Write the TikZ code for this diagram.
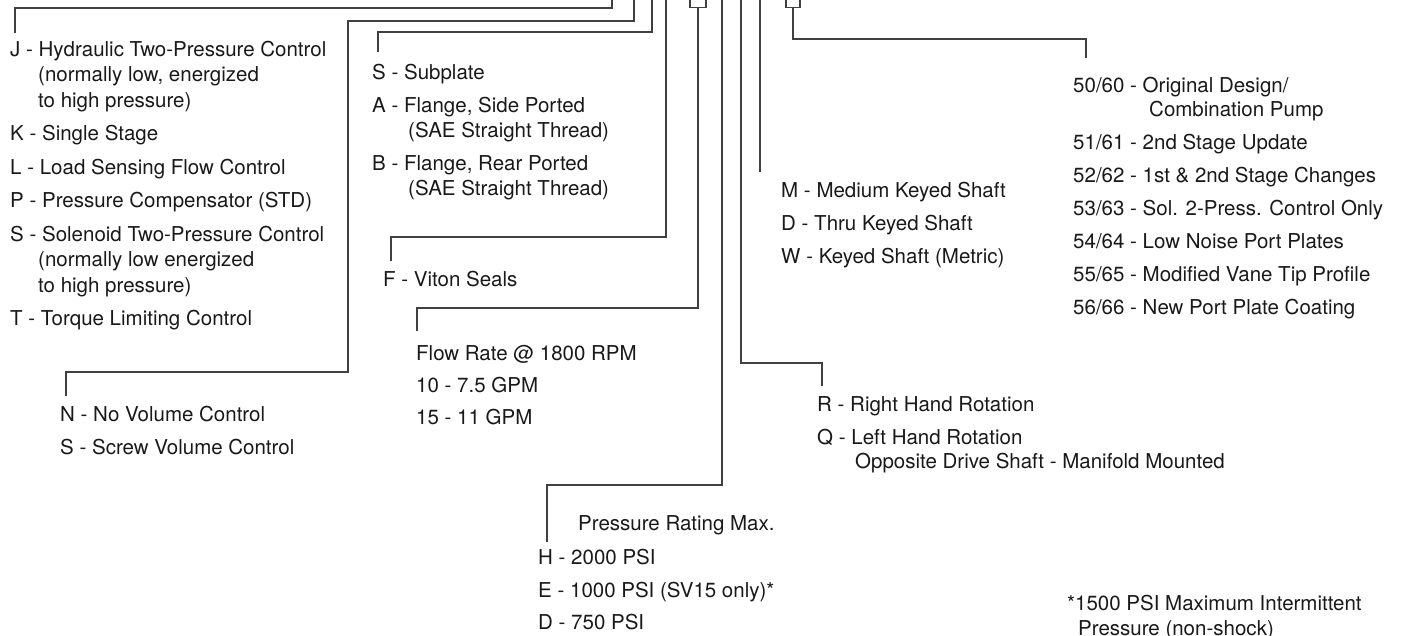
\documentclass[tikz,border=0pt]{standalone}
\usepackage{fontspec}
\setmainfont{TeX Gyre Heros}
\begin{document}
\begin{tikzpicture}[x=1pt,y=-1pt,
  lbl/.style={anchor=base west, inner sep=0pt, font=\fontsize{20.5}{24}\selectfont, text=black!90},
  ln/.style={line width=1.2pt, draw=black!75},
  bx/.style={line width=1.2pt, draw=black!75, minimum width=16pt, minimum height=14pt, inner sep=0pt, anchor=south}]
\useasboundingbox (0,0) rectangle (1403,635);
% ---------- J list ----------
\node[lbl] (j1) at (10,56)    {J - Hydraulic Two-Pressure Control};
\node[lbl] (j2) at (38,81.5)  {(normally low, energized};
\node[lbl] (j3) at (38,107)   {to high pressure)};
\node[lbl] (jk) at (10,140.5) {K - Single Stage};
\node[lbl] (jl) at (10,174)   {L - Load Sensing Flow Control};
\node[lbl] (jp) at (10,207.5) {P - Pressure Compensator (STD)};
\node[lbl] (js1) at (10,241)  {S - Solenoid Two-Pressure Control};
\node[lbl] (js2) at (38,266.5){(normally low energized};
\node[lbl] (js3) at (38,292)  {to high pressure)};
\node[lbl] (jt) at (10,325.5) {T - Torque Limiting Control};
% ---------- S list ----------
\node[lbl] (s1) at (372,79)  {S - Subplate};
\node[lbl] (s2) at (372,112) {A - Flange, Side Ported};
\node[lbl] (s3) at (408,137) {(SAE Straight Thread)};
\node[lbl] (s4) at (372,170) {B - Flange, Rear Ported};
\node[lbl] (s5) at (408,195) {(SAE Straight Thread)};
% ---------- F ----------
\node[lbl] (f1) at (383,286) {F - Viton Seals};
% ---------- Flow ----------
\node[lbl] (q1) at (416,360) {Flow Rate @ 1800 RPM};
\node[lbl] (q2) at (416,392) {10 - 7.5 GPM};
\node[lbl] (q3) at (416,424) {15 - 11 GPM};
% ---------- N list ----------
\node[lbl] (n1) at (60,421) {N - No Volume Control};
\node[lbl] (n2) at (60,454) {S - Screw Volume Control};
% ---------- M list ----------
\node[lbl] (m1) at (781,197) {M - Medium Keyed Shaft};
\node[lbl] (m2) at (781,230) {D - Thru Keyed Shaft};
\node[lbl] (m3) at (781,263) {W - Keyed Shaft (Metric)};
% ---------- R list ----------
\node[lbl] (r1) at (817,411) {R - Right Hand Rotation};
\node[lbl] (r2) at (817,444) {Q - Left Hand Rotation};
\node[lbl] (r3) at (855,468) {Opposite Drive Shaft - Manifold Mounted};
% ---------- design list ----------
\node[lbl] (d1) at (1073,92)  {50/60 - Original Design/};
\node[lbl] (d1b) at (1149,116){Combination Pump};
\node[lbl] (d2) at (1073,149) {51/61 - 2nd Stage Update};
\node[lbl] (d3) at (1073,182) {52/62 - 1st \& 2nd Stage Changes};
\node[lbl] (d4) at (1073,215) {53/63 - Sol. 2-Press. Control Only};
\node[lbl] (d5) at (1073,248) {54/64 - Low Noise Port Plates};
\node[lbl] (d6) at (1073,281) {55/65 - Modified Vane Tip Profile};
\node[lbl] (d7) at (1073,314) {56/66 - New Port Plate Coating};
% ---------- pressure list ----------
\node[lbl] (h0) at (578,530) {Pressure Rating Max.};
\node[lbl] (h1) at (538,564) {H - 2000 PSI};
\node[lbl] (h2) at (538,597) {E - 1000 PSI (SV15 only)*};
\node[lbl] (h3) at (538,629) {D - 750 PSI};
% ---------- footnote ----------
\node[lbl] (fn1) at (1067,610) {*1500 PSI Maximum Intermittent};
\node[lbl] (fn2) at (1078,635) {Pressure (non-shock)};
% ---------- boxes ----------
\node[bx, draw] (box1) at (698,8) {};
\node[bx, draw, minimum width=14pt] (box2) at (793,8) {};
% ---------- connector points ----------
\coordinate (cA0) at (612,-2); \coordinate (cA1) at (15,8);   \coordinate (cA2) at (15,33);
\coordinate (cB0) at (634,-2); \coordinate (cB1) at (348,21); \coordinate (cB2) at (348,372);
\coordinate (cB3) at (66,372); \coordinate (cB4) at (66,396);
\coordinate (cC0) at (652,-2); \coordinate (cC1) at (378,32); \coordinate (cC2) at (378,52);
\coordinate (cD0) at (666,-2); \coordinate (cD1) at (666,237); \coordinate (cD2) at (391,237); \coordinate (cD3) at (391,261);
\coordinate (cE1) at (698,308); \coordinate (cE2) at (417,308); \coordinate (cE3) at (417,331);
\coordinate (cF0) at (722,-2); \coordinate (cF1) at (722,485); \coordinate (cF2) at (547,485); \coordinate (cF3) at (547,542);
\coordinate (cG0) at (741,-2); \coordinate (cG1) at (741,363); \coordinate (cG2) at (822,363); \coordinate (cG3) at (822,386);
\coordinate (cH0) at (760,-2); \coordinate (cH1) at (760,172);
\coordinate (cI1) at (1086,39); \coordinate (cI2) at (1086,58);
% ---------- connectors ----------
\draw[ln] (cA0) |- (cA1) -- (cA2);
\draw[ln] (cB0) |- (cB1) -- (cB2) -- (cB3) -- (cB4);
\draw[ln] (cC0) |- (cC1) -- (cC2);
\draw[ln] (cD0) -- (cD1) -- (cD2) -- (cD3);
\draw[ln] (box1.south) -- (cE1) -- (cE2) -- (cE3);
\draw[ln] (cF0) -- (cF1) -- (cF2) -- (cF3);
\draw[ln] (cG0) -- (cG1) -- (cG2) -- (cG3);
\draw[ln] (cH0) -- (cH1);
\draw[ln] (box2.south) |- (cI1) -- (cI2);
\end{tikzpicture}
\end{document}
